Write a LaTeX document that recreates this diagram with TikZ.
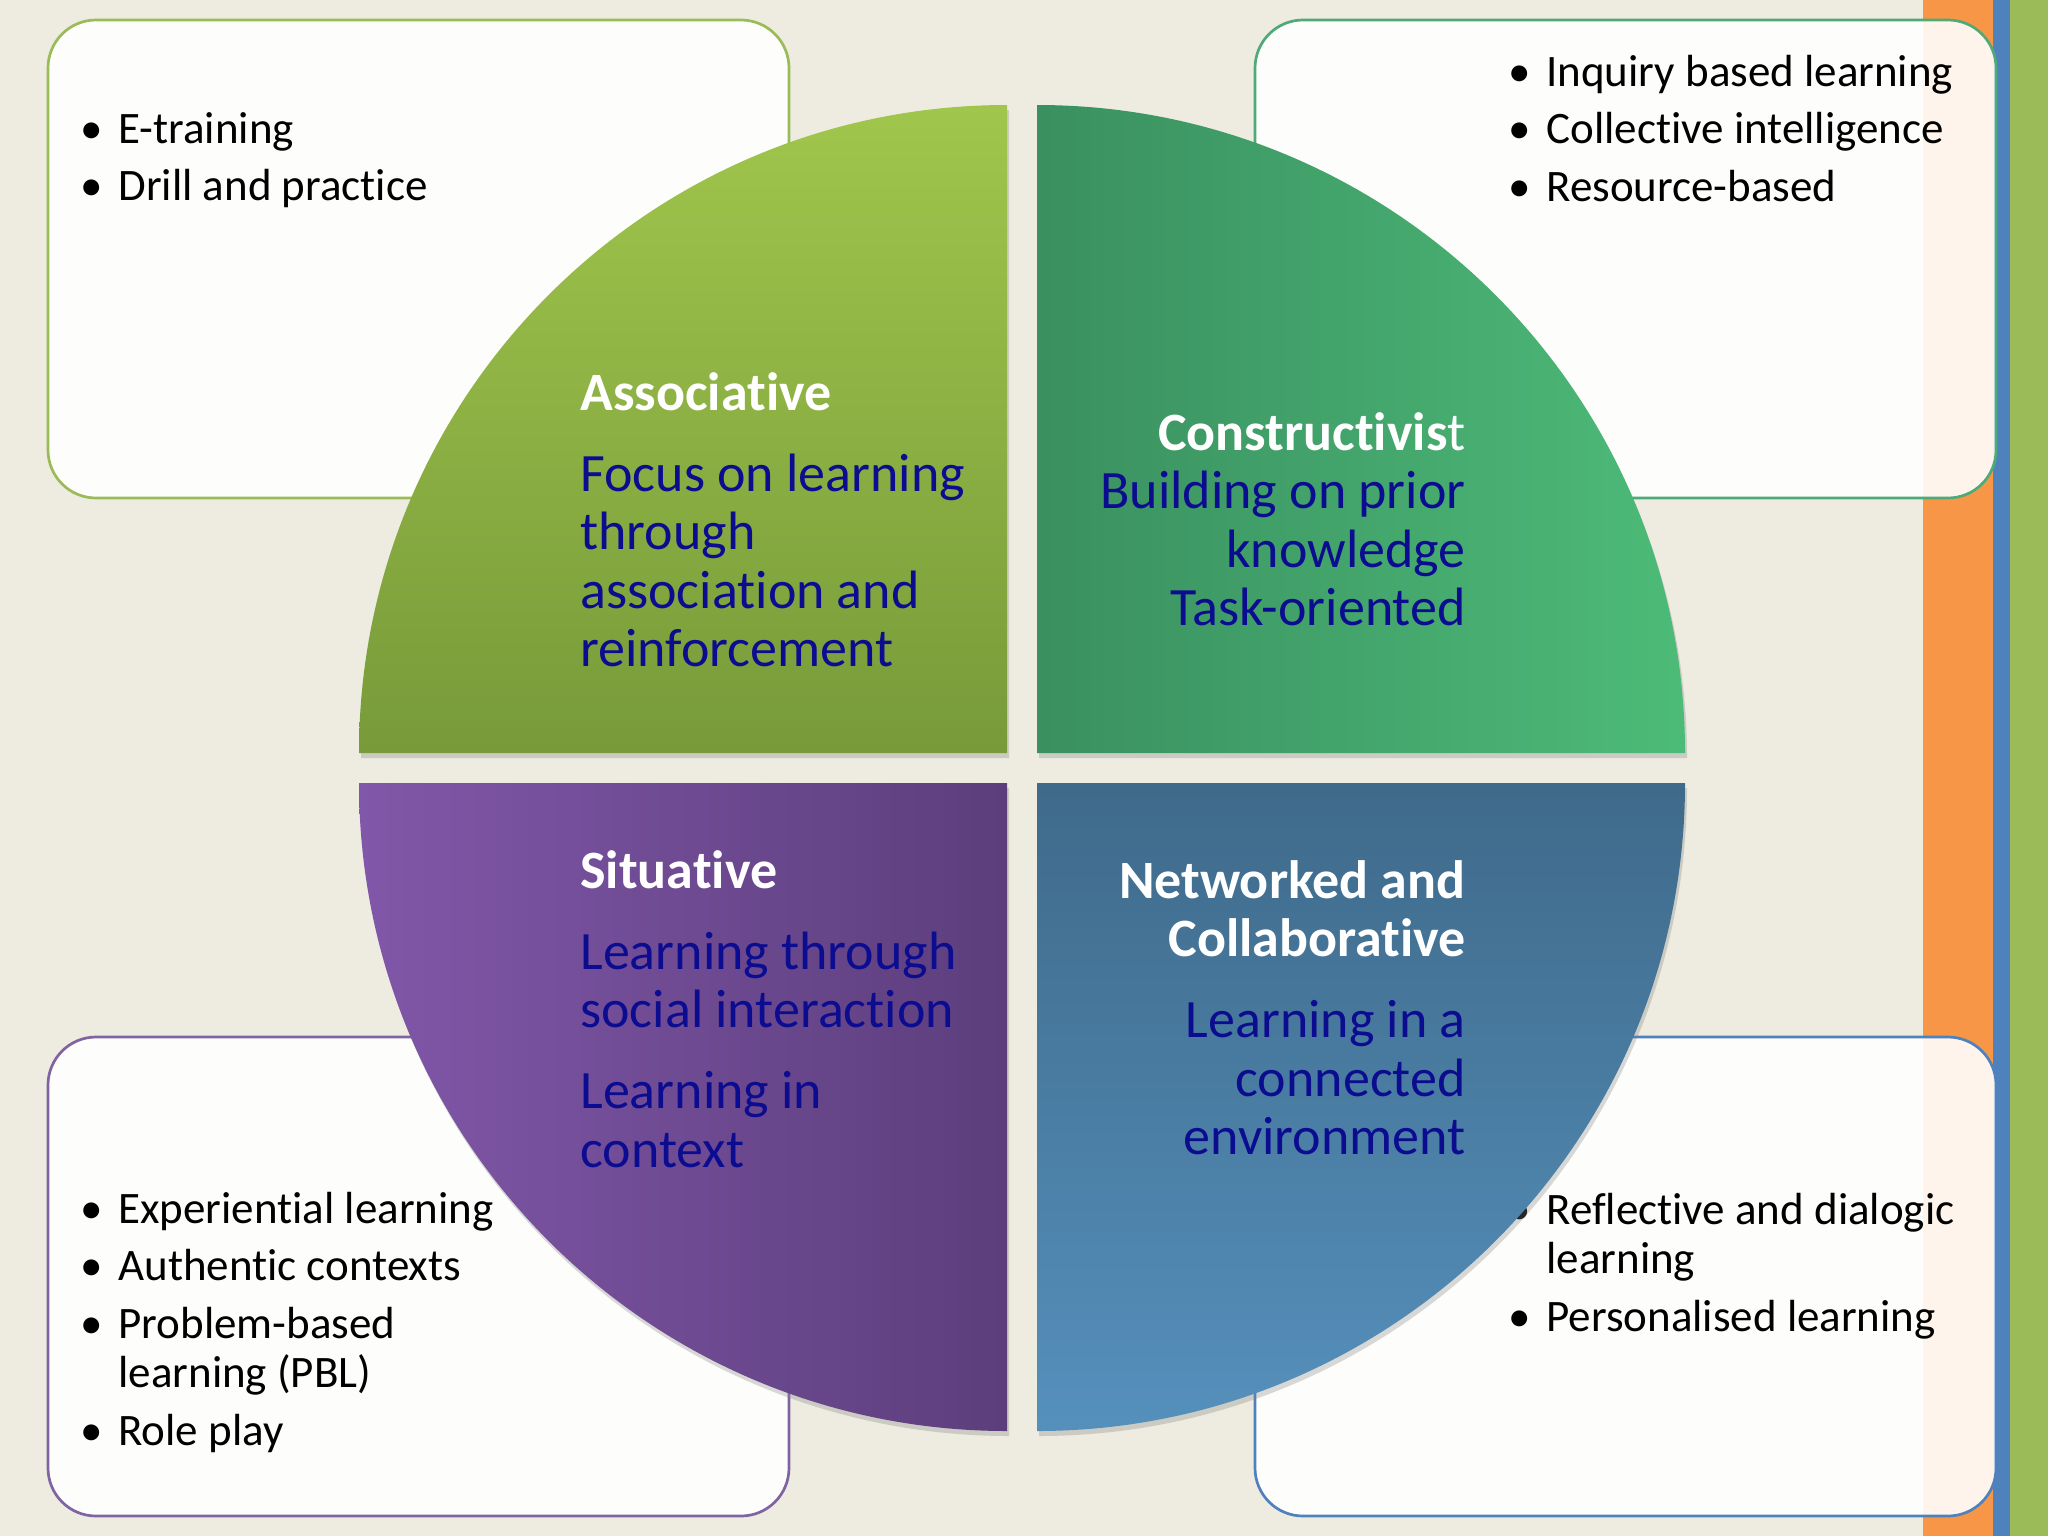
\documentclass[tikz,border=0pt]{standalone}
\usepackage{fontspec}
\setmainfont{Carlito}[Ligatures=NoCommon]
\usetikzlibrary{shadows}

\definecolor{slidebg}{HTML}{EEECE1}
\definecolor{accOrange}{HTML}{F79646}
\definecolor{accBlue}{HTML}{4F81BD}
\definecolor{accGreen}{HTML}{9BBB59}
\definecolor{accTeal}{HTML}{4FAA78}
\definecolor{accPurple}{HTML}{8064A2}
\definecolor{textblue}{HTML}{0C0C90}
\definecolor{greenTop}{HTML}{A0C64C}
\definecolor{greenBot}{HTML}{789A3A}
\definecolor{tealLeft}{HTML}{3A9060}
\definecolor{tealRight}{HTML}{4DBB78}
\definecolor{purpLeft}{HTML}{8157A9}
\definecolor{purpRight}{HTML}{5C3E7C}
\definecolor{blueTop}{HTML}{3F6A8A}
\definecolor{blueBot}{HTML}{5590BC}

\newcommand{\bul}{\makebox[19pt][l]{\textbullet}}
\newcommand{\hang}{\hspace*{19pt}}

\begin{document}
\begin{tikzpicture}[x=0.5pt, y=-0.5pt,
    listbox/.style={fill=white, fill opacity=0.9, line width=1.35pt, rounded corners=24pt},
    quad/.style={drop shadow={shadow xshift=1pt, shadow yshift=-2.5pt, opacity=0.3}},
    bullets/.style={anchor=base west, align=left, inner sep=0pt, font=\fontsize{22.5}{24.75}\selectfont},
    qtext/.style={inner sep=0pt, text=textblue, font=\fontsize{27}{29.25}\selectfont}]
  \useasboundingbox (0,0) rectangle (2048,1536);

  % slide background and side stripes
  \fill[slidebg] (0,0) rectangle (2048,1536);
  \fill[accOrange] (1923,0) rectangle (1993,1536);
  \fill[accBlue] (1993,0) rectangle (2010,1536);
  \fill[accGreen] (2010,0) rectangle (2048,1536);

  % corner boxes (base = last line)
  \draw[listbox, draw=accGreen] (48,20) rectangle (789,498);
  \draw[listbox, draw=accTeal] (1255,20) rectangle (1996,498);
  \draw[listbox, draw=accPurple] (48,1037) rectangle (789,1516);
  \draw[listbox, draw=accBlue] (1255,1037) rectangle (1996,1516);

  \node[bullets] (tlList) at (80,200.5) {\bul E-training\\[4pt]\bul Drill and practice};
  \node[bullets] (trList) at (1508,201) {\bul Inquiry based learning\\[4pt]\bul Collective intelligence\\[4pt]\bul Resource-based};
  \node[bullets] (blList) at (80,1445) {\bul Experiential learning\\[4pt]\bul Authentic contexts\\[4pt]\bul Problem-based\\\hang learning (PBL)\\[4pt]\bul Role play};
  \node[bullets] (brList) at (1508,1331) {\bul Reflective and dialogic\\\hang learning\\[4pt]\bul Personalised learning};

  % the four quarters
  \def\qr{324pt}
  \shade[quad, top color=greenTop, bottom color=greenBot]
    (1007,753) -- (359,753) arc[start angle=180, end angle=90, radius=\qr] -- cycle;
  \shade[quad, left color=tealLeft, right color=tealRight]
    (1037,753) -- (1037,105) arc[start angle=90, end angle=0, radius=\qr] -- cycle;
  \shade[quad, left color=purpLeft, right color=purpRight]
    (1007,783) -- (1007,1431) arc[start angle=-90, end angle=-180, radius=\qr] -- cycle;
  \shade[quad, top color=blueTop, bottom color=blueBot]
    (1037,783) -- (1685,783) arc[start angle=0, end angle=-90, radius=\qr] -- cycle;

  \node[qtext, anchor=base west, align=left] (assocTxt) at (580,666.5)
    {\textcolor{white}{\textbf{Associative}}\\[11.25pt]Focus on learning\\through\\association and\\reinforcement};
  \node[qtext, anchor=base east, align=right] (constrTxt) at (1466,625.5)
    {\textcolor{white}{\textbf{Constructivis}t}\\Building on prior\\knowledge\\Task-oriented};
  \node[qtext, anchor=base west, align=left] (situTxt) at (580,1167)
    {\textcolor{white}{\textbf{Situative}}\\[11.25pt]Learning through\\social interaction\\[11.25pt]Learning in\\context};
  \node[qtext, anchor=base east, align=right] (netTxt) at (1466,1154.5)
    {\textcolor{white}{\textbf{Networked and}}\\\textcolor{white}{\textbf{Collaborative}}\\[11.25pt]Learning in a\\connected\\environment};
\end{tikzpicture}
\end{document}
